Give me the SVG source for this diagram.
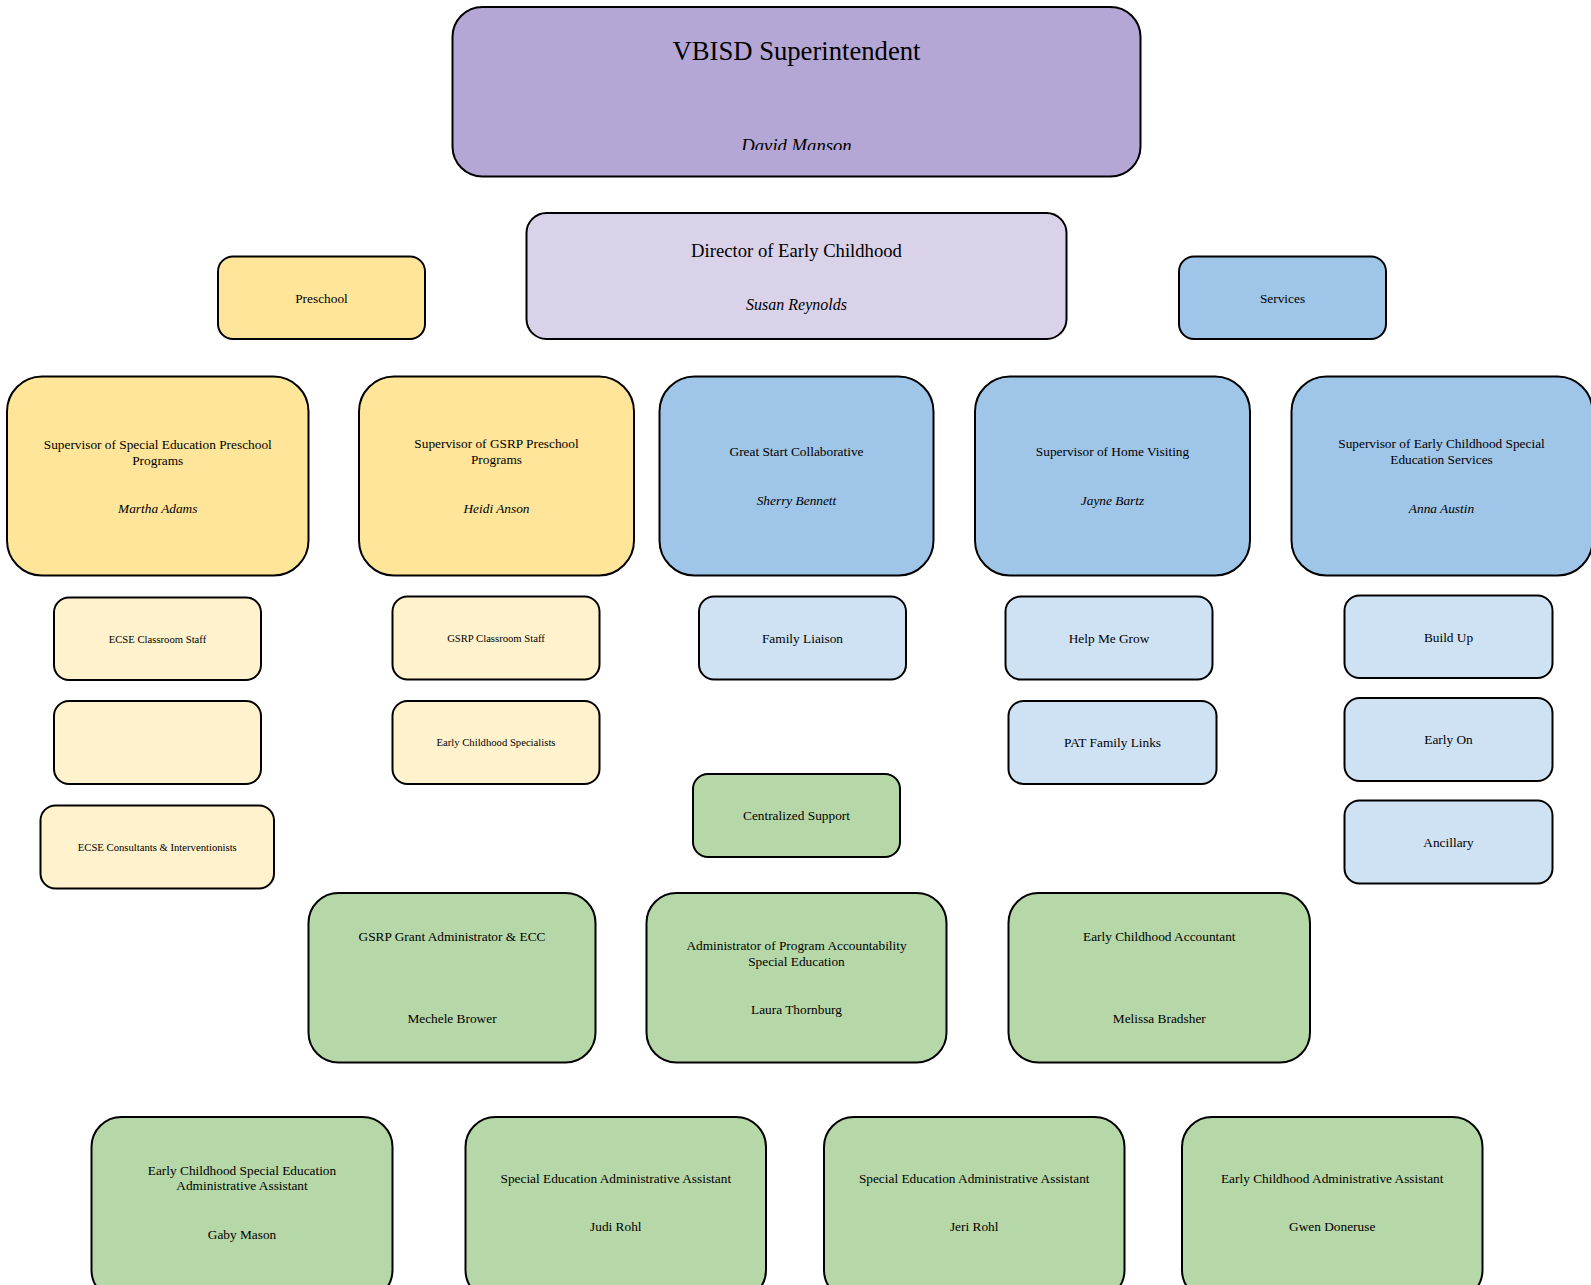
<svg xmlns="http://www.w3.org/2000/svg" width="1591" height="1285" viewBox="0 0 1591 1285">
<style>
rect{stroke:#000;stroke-width:2}
text{font-family:"Liberation Serif","Times New Roman",serif;fill:#000;text-anchor:middle}
.purple{fill:#b4a7d6}.lav{fill:#d9d2e9}.yel{fill:#ffe599}.lyel{fill:#fff2cc}.blue{fill:#9fc5e8}.lblue{fill:#cfe2f3}.green{fill:#b6d7a8}
.t26{font-size:26.67px}.t18{font-size:18.67px}.t16{font-size:16px}.t13{font-size:13.33px}.t10{font-size:10.67px}
.i{font-style:italic}
</style>
<defs>
<clipPath id="clipSup"><rect x="440" y="0" width="720" height="150" style="stroke:none"/></clipPath>
</defs>
<rect x="0" y="0" width="1591" height="1285" style="fill:#fff;stroke:none"/>
<g id="connectors"></g>

<g id="superintendent">
<rect class="purple" x="452.5" y="7" width="688" height="169.5" rx="30"/>
<text class="t26" x="796.5" y="60">VBISD Superintendent</text>
<text class="t18 i" x="796.5" y="152" clip-path="url(#clipSup)">David Manson</text>
</g>

<g id="director">
<rect class="lav" x="526.5" y="213" width="540" height="126" rx="20"/>
<text class="t18" x="796.5" y="257">Director of Early Childhood</text>
<text class="t16 i" x="796.5" y="310">Susan Reynolds</text>
</g>

<g id="preschool">
<rect class="yel" x="218" y="256.5" width="207" height="82.5" rx="15"/>
<text class="t13" x="321.5" y="302.5">Preschool</text>
</g>

<g id="services">
<rect class="blue" x="1179" y="256.5" width="207" height="82.5" rx="15"/>
<text class="t13" x="1282.5" y="302.5">Services</text>
</g>

<g id="sup-sped-preschool">
<rect class="yel" x="7" y="376.5" width="301.5" height="199" rx="35"/>
<text class="t13" x="157.75" y="449">Supervisor of Special Education Preschool</text>
<text class="t13" x="157.75" y="465">Programs</text>
<text class="t13 i" x="157.75" y="512.5">Martha Adams</text>
</g>

<g id="sup-gsrp">
<rect class="yel" x="359" y="376.5" width="275" height="199" rx="35"/>
<text class="t13" x="496.5" y="448">Supervisor of GSRP Preschool</text>
<text class="t13" x="496.5" y="464">Programs</text>
<text class="t13 i" x="496.5" y="512.5">Heidi Anson</text>
</g>

<g id="great-start">
<rect class="blue" x="659.5" y="376.5" width="274" height="199" rx="35"/>
<text class="t13" x="796.5" y="456">Great Start Collaborative</text>
<text class="t13 i" x="796.5" y="504.5">Sherry Bennett</text>
</g>

<g id="sup-home-visiting">
<rect class="blue" x="975" y="376.5" width="275" height="199" rx="35"/>
<text class="t13" x="1112.5" y="456">Supervisor of Home Visiting</text>
<text class="t13 i" x="1112.5" y="504.5">Jayne Bartz</text>
</g>

<g id="sup-ecse-services">
<rect class="blue" x="1291.5" y="376.5" width="301" height="199" rx="35"/>
<text class="t13" x="1441.5" y="448">Supervisor of Early Childhood Special</text>
<text class="t13" x="1441.5" y="464">Education Services</text>
<text class="t13 i" x="1441.5" y="512.5">Anna Austin</text>
</g>

<g id="ecse-classroom">
<rect class="lyel" x="54" y="597.5" width="207" height="82.5" rx="15"/>
<text class="t10" x="157.5" y="642.7">ECSE Classroom Staff</text>
</g>

<g id="blank-yellow">
<rect class="lyel" x="54" y="701" width="207" height="83" rx="15"/>
</g>

<g id="ecse-consultants">
<rect class="lyel" x="40.5" y="805.5" width="233.5" height="83" rx="15"/>
<text class="t10" x="157.3" y="850.7">ECSE Consultants &amp; Interventionists</text>
</g>

<g id="gsrp-classroom">
<rect class="lyel" x="392.5" y="596.5" width="207" height="83" rx="15"/>
<text class="t10" x="496" y="641.7">GSRP Classroom Staff</text>
</g>

<g id="ec-specialists">
<rect class="lyel" x="392.5" y="701" width="207" height="83" rx="15"/>
<text class="t10" x="496" y="746.4">Early Childhood Specialists</text>
</g>

<g id="family-liaison">
<rect class="lblue" x="699" y="596.5" width="207" height="83" rx="15"/>
<text class="t13" x="802.5" y="642.5">Family Liaison</text>
</g>

<g id="help-me-grow">
<rect class="lblue" x="1005.5" y="596.5" width="207" height="83" rx="15"/>
<text class="t13" x="1109" y="642.5">Help Me Grow</text>
</g>

<g id="pat-family-links">
<rect class="lblue" x="1008.5" y="701" width="208" height="83" rx="15"/>
<text class="t13" x="1112.5" y="747">PAT Family Links</text>
</g>

<g id="build-up">
<rect class="lblue" x="1344.5" y="595.5" width="208" height="82.5" rx="15"/>
<text class="t13" x="1448.5" y="641.5">Build Up</text>
</g>

<g id="early-on">
<rect class="lblue" x="1344.5" y="698" width="208" height="83" rx="15"/>
<text class="t13" x="1448.5" y="744">Early On</text>
</g>

<g id="ancillary">
<rect class="lblue" x="1344.5" y="800.5" width="208" height="83" rx="15"/>
<text class="t13" x="1448.5" y="846.5">Ancillary</text>
</g>

<g id="centralized-support">
<rect class="green" x="693" y="774" width="207" height="83" rx="15"/>
<text class="t13" x="796.5" y="820">Centralized Support</text>
</g>

<g id="gsrp-grant-admin">
<rect class="green" x="308.5" y="893" width="287" height="169.5" rx="30"/>
<text class="t13" x="452" y="941">GSRP Grant Administrator &amp; ECC</text>
<text class="t13" x="452" y="1023">Mechele Brower</text>
</g>

<g id="admin-program-accountability">
<rect class="green" x="646.5" y="893" width="300" height="169.5" rx="30"/>
<text class="t13" x="796.5" y="950">Administrator of Program Accountability</text>
<text class="t13" x="796.5" y="965.5">Special Education</text>
<text class="t13" x="796.5" y="1014">Laura Thornburg</text>
</g>

<g id="ec-accountant">
<rect class="green" x="1008.5" y="893" width="301.5" height="169.5" rx="30"/>
<text class="t13" x="1159.3" y="941">Early Childhood Accountant</text>
<text class="t13" x="1159.3" y="1023">Melissa Bradsher</text>
</g>

<g id="ecse-admin-assistant">
<rect class="green" x="91.5" y="1117" width="301" height="183" rx="30"/>
<text class="t13" x="242" y="1174.5">Early Childhood Special Education</text>
<text class="t13" x="242" y="1190">Administrative Assistant</text>
<text class="t13" x="242" y="1238.5">Gaby Mason</text>
</g>

<g id="sped-admin-assistant-1">
<rect class="green" x="465.5" y="1117" width="300.5" height="183" rx="30"/>
<text class="t13" x="615.8" y="1182.5">Special Education Administrative Assistant</text>
<text class="t13" x="615.8" y="1231">Judi Rohl</text>
</g>

<g id="sped-admin-assistant-2">
<rect class="green" x="824" y="1117" width="300.5" height="183" rx="30"/>
<text class="t13" x="974.2" y="1182.5">Special Education Administrative Assistant</text>
<text class="t13" x="974.2" y="1231">Jeri Rohl</text>
</g>

<g id="ec-admin-assistant">
<rect class="green" x="1182" y="1117" width="300.5" height="183" rx="30"/>
<text class="t13" x="1332.2" y="1182.5">Early Childhood Administrative Assistant</text>
<text class="t13" x="1332.2" y="1231">Gwen Doneruse</text>
</g>
</svg>
